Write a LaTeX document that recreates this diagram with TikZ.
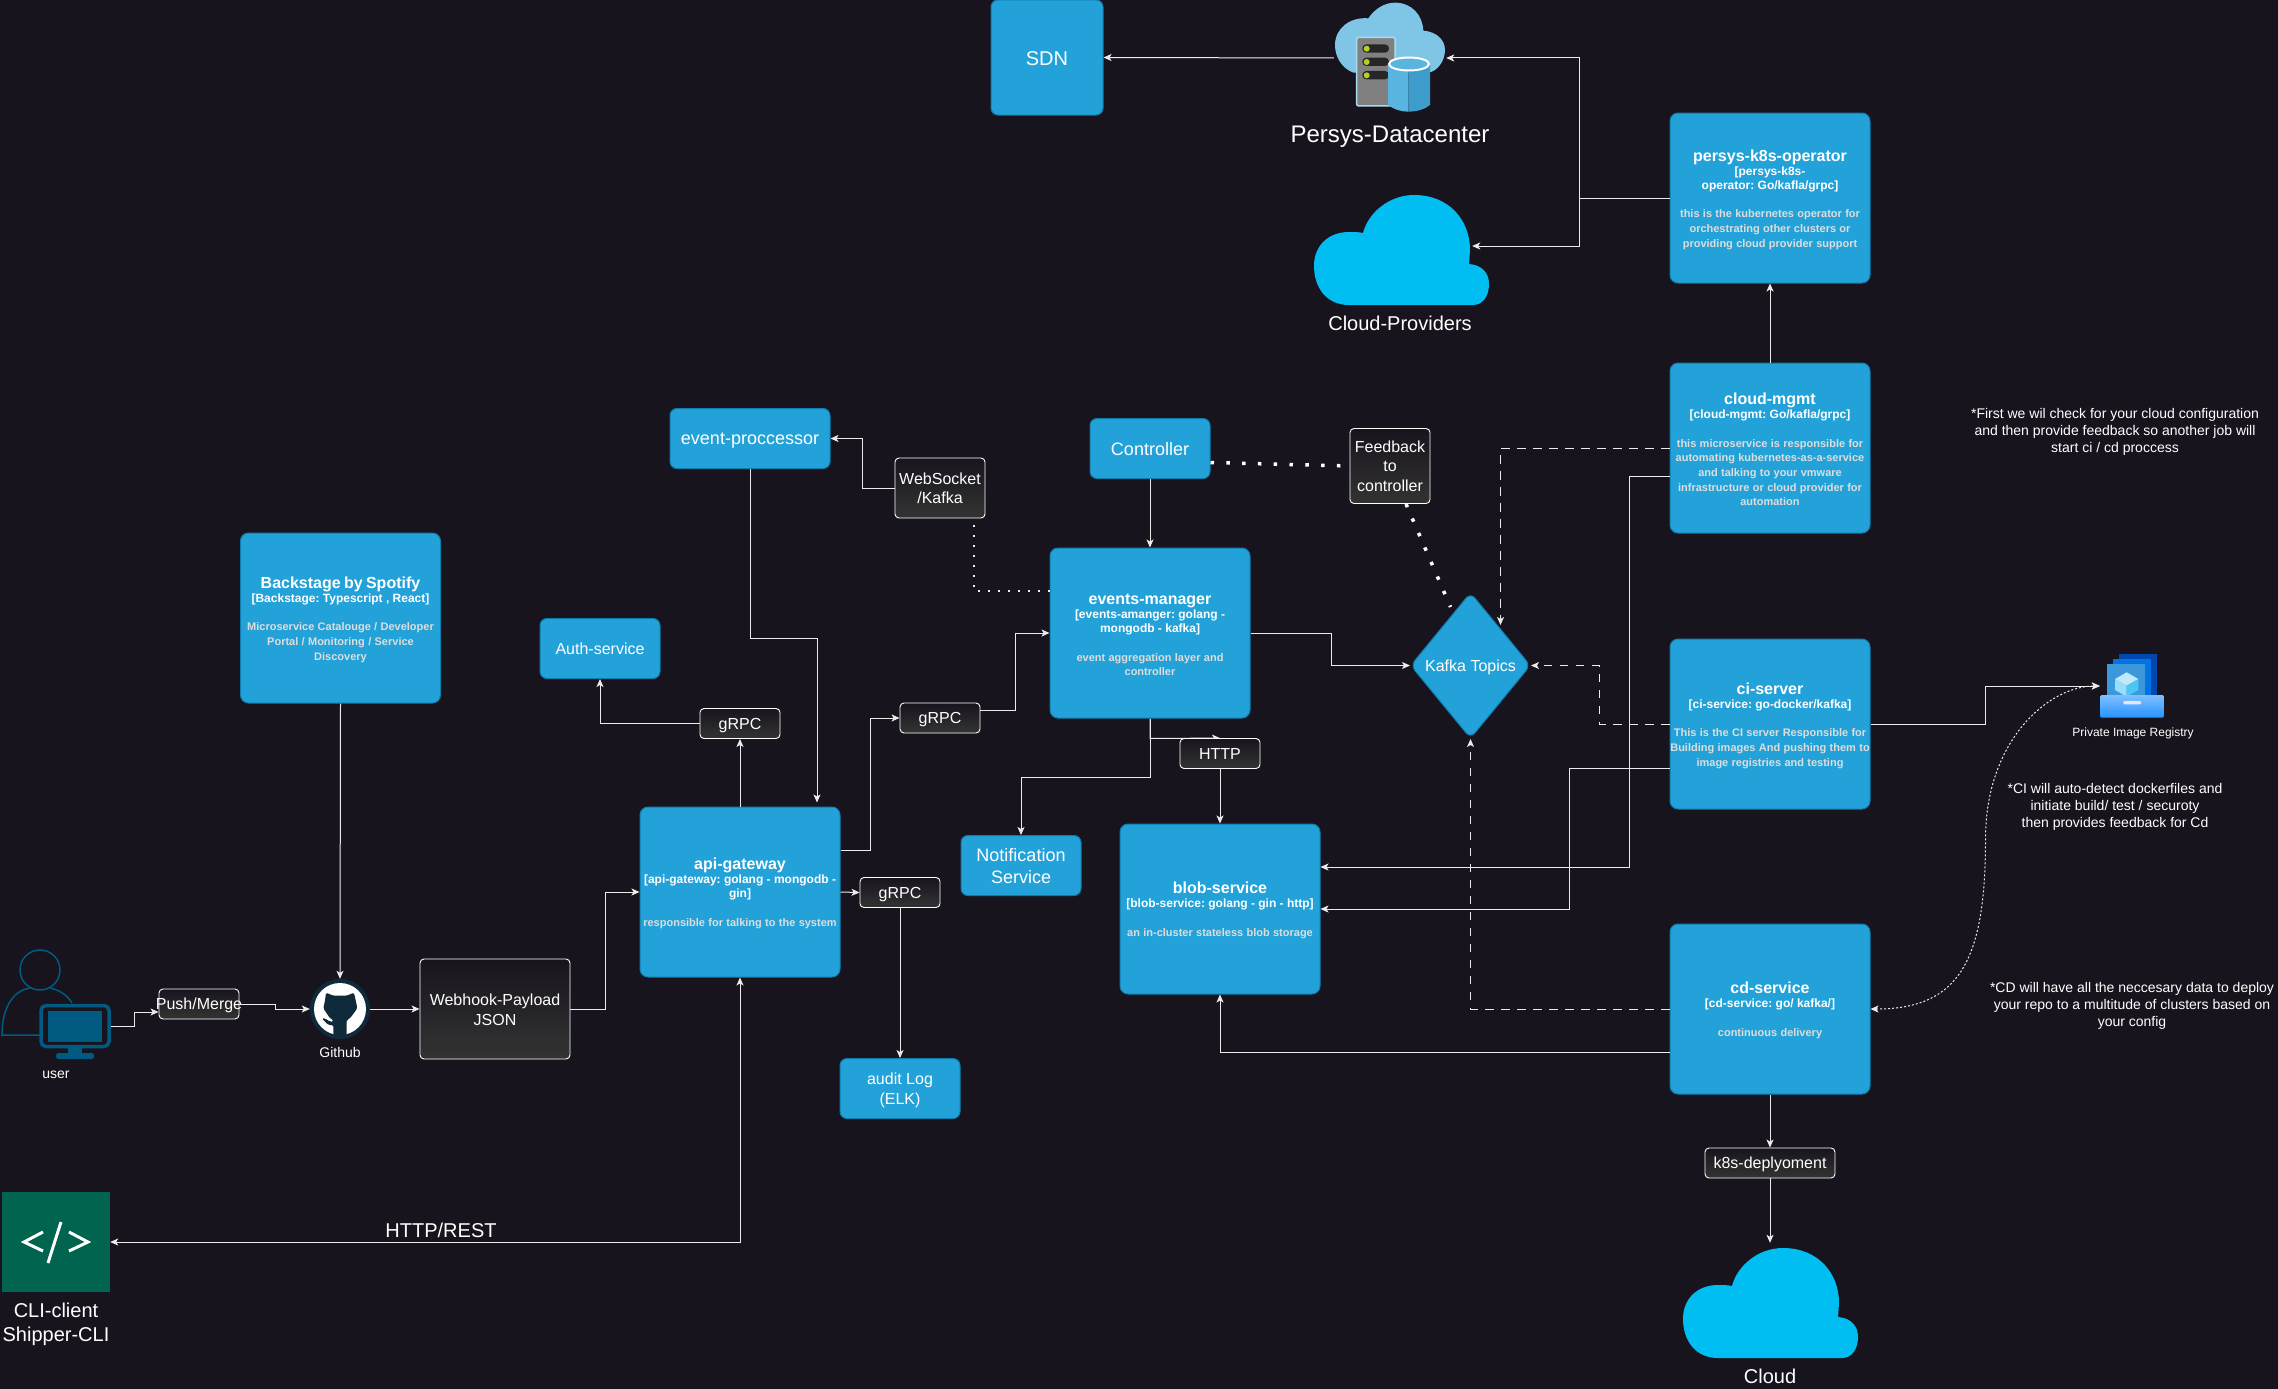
\documentclass[tikz,border=0pt]{standalone}
\usepackage{fontspec}
\setmainfont{Liberation Sans}
\usetikzlibrary{arrows.meta,shapes.geometric,backgrounds}
\frenchspacing
\definecolor{bgdark}{HTML}{18141D}
\definecolor{svcblue}{HTML}{23A2D9}
\definecolor{svcedge}{HTML}{0E7DAD}
\definecolor{svcgrey}{HTML}{DDDDDD}
\definecolor{cloudblue}{HTML}{00BEF2}
\definecolor{userblue}{HTML}{005A82}
\definecolor{ghdark}{HTML}{0F2A3A}
\definecolor{cligreen}{HTML}{01644E}
\definecolor{dccloud}{HTML}{7FC5E5}
\definecolor{dcglow}{HTML}{A8DCF0}
\definecolor{dclight}{HTML}{5AB4E0}
\definecolor{dcdark}{HTML}{3E9CCB}
\definecolor{dcled}{HTML}{B4D12B}
\newcommand{\fnt}[2]{\fontsize{#1}{#2}\selectfont}
\newcommand{\svctitle}[1]{{\fnt{16}{19}\bfseries\rule{0pt}{14.6pt}#1\par}}
\newcommand{\svctech}[1]{{\fnt{12}{14}\bfseries #1\par}}
\newcommand{\svcdesc}[1]{{\vspace{14pt}\fnt{11}{14.6}\bfseries\color{svcgrey} #1\par}}

\begin{document}
\begin{tikzpicture}[x=1pt,y=-1pt,
    every text node part/.style={align=center},
    every node/.style={text=white, text depth=0pt},
    >={Stealth[length=8pt,width=7pt,inset=2pt]},
    svcbox/.style={draw=svcedge, line width=1pt, fill=svcblue, rounded corners=8pt, text width=200,
      text depth=, inner xsep=0, inner ysep=0, minimum height=170},
    smallbox/.style={draw=svcedge, line width=1pt, fill=svcblue, rounded corners=7pt, inner sep=0},
    tagbox/.style={draw=white, line width=.9pt, rounded corners=4pt, top color=bgdark, bottom color=black!80!white,
      inner sep=0, font=\fnt{16}{19.5}},
    spot/.style={inner sep=0, minimum size=0},
    note/.style={font=\fnt{14}{17}},
    link/.style={line width=1pt, draw=white!92!black},
    dashlink/.style={link, dash pattern=on 8.5pt off 7.5pt},
    dotlink/.style={link, dash pattern=on 1.5pt off 8.5pt, line width=1.5pt},
    heavydots/.style={draw=white, line width=3.5pt, dash pattern=on 3.5pt off 12.3pt},
    cloudshape/.pic={\fill[cloudblue] (35,110) .. controls (12,110) and (0,92) .. (0,71)
      .. controls (0,50) and (15,37) .. (35,37) .. controls (40,37) and (45,37) .. (49,38)
      .. controls (54,18) and (75,0) .. (100,0) .. controls (135,0) and (156,25) .. (156,55)
      -- (155,69) .. controls (168,70) and (175,78) .. (175,89)
      .. controls (175,102) and (168,110) .. (159,110) -- cycle;}]
  \useasboundingbox (0,0) rectangle (2278,1389);

  \node (sdn) [smallbox, minimum width=112, minimum height=115, font=\fnt{20}{24}] at (1047,57.5) {\raisebox{-1.5pt}{SDN}};
  \node (datacenter) [spot, minimum width=112, minimum height=110] at (1390,58) {};
  \node (dclabel) [font=\fnt{24}{28}] at (1390,134) {Persys-Datacenter};
  \node (cloudprov) [spot, minimum width=142, minimum height=100] at (1401,246) {};
  \node (provlabel) [font=\fnt{20}{24}] at (1400,323) {Cloud-Providers};

  \node (operator) [svcbox] at (1770,198) {\svctitle{persys-k8s-operator}\svctech{[persys-k8s-\\operator: Go/kafla/grpc]}\svcdesc{this is the kubernetes operator for\\orchestrating other clusters or\\providing cloud provider support}};
  \node (cloudmgmt) [svcbox] at (1770,448) {\svctitle{cloud-mgmt}\svctech{[cloud-mgmt: Go/kafla/grpc]}\svcdesc{this microservice is responsible for\\automating kubernetes-as-a-service\\and talking to your vmware\\infrastructure or cloud provider for\\automation}};
  \node (ciserver) [svcbox] at (1770,724) {\svctitle{ci-server}\svctech{[ci-service: go-docker/kafka]}\svcdesc{This is the CI server Responsible for\\Building images And pushing them to\\image registries and testing}};
  \node (cdservice) [svcbox] at (1770,1009) {\svctitle{cd-service}\svctech{[cd-service: go/ kafka/]}\svcdesc{continuous delivery}};
  \node (blob) [svcbox] at (1220,909) {\svctitle{blob-service}\svctech{[blob-service: golang - gin - http]}\svcdesc{an in-cluster stateless blob storage}};
  \node (eventsmgr) [svcbox] at (1150,633) {\svctitle{events-manager}\svctech{[events-amanger: golang -\\mongodb - kafka]}\svcdesc{event aggregation layer and\\controller}};
  \node (apigw) [svcbox] at (740,892) {\svctitle{api-gateway}\svctech{[api-gateway: golang - mongodb -\\gin]}\svcdesc{responsible for talking to the system}};
  \node (backstage) [svcbox] at (340.5,618) {\svctitle{Backstage by Spotify}\svctech{[Backstage: Typescript , React]}\svcdesc{Microservice Catalouge / Developer\\Portal / Monitoring / Service\\Discovery}};

  \node (eventproc) [smallbox, minimum width=160, minimum height=60, font=\fnt{18}{22}] at (750,438.5) {event-proccessor};
  \node (controller) [smallbox, minimum width=120, minimum height=60, font=\fnt{18}{22}] at (1150,448.5) {Controller};
  \node (authsvc) [smallbox, minimum width=120, minimum height=60, font=\fnt{16}{19}] at (600,648.5) {Auth-service};
  \node (notif) [smallbox, minimum width=120, minimum height=60, font=\fnt{18}{22}] at (1021,865.5) {Notification\\Service};
  \node (audit) [smallbox, minimum width=120, minimum height=60, font=\fnt{16}{19.5}] at (900,1088.5) {audit Log\\(ELK)};

  \node (websocket) [tagbox, minimum width=90, minimum height=60] at (940,488) {WebSocket\\/Kafka};
  \node (feedback) [tagbox, minimum width=80, minimum height=75] at (1390,466) {Feedback\\to\\controller};
  \node (grpcauth) [tagbox, minimum width=80, minimum height=30] at (740,723.5) {gRPC};
  \node (grpcev) [tagbox, minimum width=80, minimum height=30] at (940,718) {gRPC};
  \node (grpcaudit) [tagbox, minimum width=80, minimum height=30] at (900,892.5) {gRPC};
  \node (http) [tagbox, minimum width=80, minimum height=30] at (1220,753.5) {HTTP};
  \node (pushmerge) [tagbox, minimum width=80, minimum height=30] at (199,1004) {\makebox[0pt]{Push/Merge}};
  \node (webhook) [tagbox, minimum width=150, minimum height=100] at (495,1009) {\raisebox{-1.5pt}{Webhook-Payload}\\\raisebox{-1.5pt}{JSON}};
  \node (k8s) [tagbox, minimum width=130, minimum height=30] at (1770,1163) {k8s-deplyoment};

  \node (kafka) [diamond, draw=svcedge, line width=1pt, fill=svcblue, rounded corners=7pt, aspect=0.82, inner sep=0,
    minimum width=120, minimum height=146, font=\fnt{16}{19}] at (1470.5,665.5) {Kafka Topics};
  \node (registry) [spot, minimum width=64, minimum height=64] at (2132,686) {};
  \node (reglabel) [font=\fnt{12}{14}] at (2133,732) {Private Image Registry};
  \node (github) [circle, fill=ghdark, inner sep=0, minimum size=60] at (340,1009) {};
  \node (ghlabel) [font=\fnt{14}{17}] at (340,1052) {Github};
  \node (user) [draw=userblue, line width=3.5pt, rounded corners=5pt, inner sep=0, minimum width=68, minimum height=41] at (75,1026) {};
  \node (userlabel) [font=\fnt{14}{17}] at (56,1075) {user};
  \node (cli) [fill=cligreen, inner sep=0, minimum width=108, minimum height=100] at (56,1242) {};
  \node (clilabel) [font=\fnt{20}{24}] at (56,1322) {CLI-client\\Shipper-CLI};
  \node (restlabel) [font=\fnt{20}{24}] at (441,1230) {HTTP/REST};
  \node (cloudbot) [spot, minimum width=142, minimum height=114] at (1770,1300) {};
  \node (cloudlabel) [font=\fnt{20}{24}] at (1770,1376) {Cloud};
  \node (note1) [note] at (2115,430) {*First we wil check for your cloud configuration\\and then provide feedback so another job will\\start ci / cd proccess};
  \node (note2) [note] at (2115,805) {*CI will auto-detect dockerfiles and\\initiate build/ test / securoty\\then provides feedback for Cd};
  \node (note3) [note] at (2132,1004) {*CD will have all the neccesary data to deploy\\your repo to a multitude of clusters based on\\your config};

  \pic at (1314,195) {cloudshape};
  \pic at (1683,1248) {cloudshape};

  \begin{scope}[shift={(1320,0)},x=.3333pt,y=-.3333pt]
    \fill[dccloud] (100,218) .. controls (65,205) and (45,170) .. (45,135) .. controls (45,85) and (90,50) .. (145,55) .. controls (165,25) and (195,8) .. (225,8) .. controls (275,8) and (308,45) .. (310,92) .. controls (350,95) and (375,120) .. (375,150) .. controls (375,185) and (350,215) .. (325,218) -- cycle;
    \filldraw[draw=dcglow, line width=1.5pt, fill=black!50, rounded corners=2pt] (110,112) rectangle (225,318);
    \foreach \ledy in {146,186,226} {
      \fill[black!85, rounded corners=4pt] (127,\ledy-13) rectangle (207,\ledy+12);
      \fill[dcled] (140,\ledy) circle [radius=3pt];
    }
    \fill[dclight] (204,192) -- (204,315) .. controls (225,330) and (245,335) .. (265,335) -- (265,192) -- cycle;
    \fill[dcdark] (265,192) -- (265,335) .. controls (290,335) and (315,328) .. (330,315) -- (330,192) -- cycle;
    \filldraw[draw=white, line width=2pt, fill=dclight] (267,192) ellipse [x radius=20pt, y radius=6.5pt];
  \end{scope}

  \begin{scope}[shift={(300,970)},x=.3333pt,y=-.3333pt]
    \fill[white] (120,117) circle [radius=26pt];
    \fill[ghdark, rounded corners=1.5pt] (78,68) -- (100,77) -- (140,77) -- (162,68) -- (168,95) -- (172,115) -- (150,145) -- (140,150) -- (140,196) -- (100,196) -- (100,165) -- (85,165) -- (65,145) -- (75,145) -- (90,155) -- (100,155) -- (100,150) -- (90,145) -- (70,115) -- (75,92) -- cycle;
  \end{scope}

  \begin{scope}[shift={(2090,645)},x=.3333pt,y=-.3333pt]
    \fill[blue!60!cyan!70!black] (88,28) rectangle (200,155);
    \fill[blue!50!cyan!90!black] (70,42) rectangle (183,155);
    \fill[cyan!70!blue!80!white] (52,58) rectangle (165,155);
    \fill[cyan!25!white] (110,82) -- (145,102) -- (110,122) -- (75,102) -- cycle;
    \fill[cyan!40!white] (75,102) -- (110,122) -- (110,155) -- (75,135) -- cycle;
    \fill[cyan!70!white] (145,102) -- (110,122) -- (110,155) -- (145,135) -- cycle;
    \shade[top color=blue!50!cyan!50!white, bottom color=blue!50!cyan!85!white, rounded corners=1.5pt] (30,150) rectangle (222,218);
    \fill[white!90!blue, rounded corners=1pt] (100,168) rectangle (153,178);
  \end{scope}

  \draw[userblue, line width=1.5pt] (40,970) circle [radius=20pt];
  \draw[userblue, line width=1.5pt] (40,1035) -- (2,1035) .. controls (2,1005) and (15,990) .. (30,988);
  \draw[userblue, line width=1.5pt] (50,988) .. controls (60,990) and (68,996) .. (72,1003);
  \fill[userblue] (48,1011) rectangle (102,1042);
  \fill[userblue] (68,1046) rectangle (82,1055);
  \fill[userblue, rounded corners=2.5pt] (56,1053) rectangle (94,1059);

  \draw[white, line width=3pt] (43,1232) -- (24,1242) -- (43,1251);
  \draw[white, line width=3pt] (61,1222) -- (48,1263);
  \draw[white, line width=3pt] (69,1232) -- (88,1242) -- (69,1251);

  \begin{scope}[on background layer]
    \fill[bgdark] (0,0) rectangle (2278,1389);
    \draw[->, link] (eventsmgr.south) -- ++(0,20) -- (http.north);
  \end{scope}
  \draw[->, link] (user.east) -- ++(24,0) |- ([yshift=-8]pushmerge.west);
  \draw[->, link] (pushmerge.east) -- ++(36,0) |- (github.west);
  \draw[->, link] (github.east) -- (webhook.west);
  \draw[->, link] (webhook.east) -- ++(35,0) |- (apigw.west);
  \draw[->, link] (backstage.south) -- (github.north);
  \draw[->, link] (apigw.east) -- (grpcaudit.west);
  \draw[->, link] (grpcaudit.south) -- (audit.north);
  \draw[->, link] (apigw.north) -- (grpcauth.south);
  \draw[->, link] (grpcauth.west) -| (authsvc.south);
  \draw[->, link] ([yshift=42]apigw.east) -- ++(30,0) |- (grpcev.west);
  \draw[->, link] ([yshift=8]grpcev.east) -- ++(35,0) |- (eventsmgr.west);
  \draw[->, link, shorten >=4pt] (eventproc.south) -- ++(0,169) -| ([xshift=77]apigw.north);
  \draw[->, link] (websocket.west) -- ++(-32,0) |- (eventproc.east);
  \draw[dotlink] ([yshift=42]eventsmgr.west) -| ([xshift=34,yshift=-7]websocket.south);
  \draw[->, link] (controller.south) -- (eventsmgr.north);
  \draw[heavydots] ([yshift=-14]controller.east) -- (feedback.west);
  \draw[heavydots] ([xshift=16]feedback.south) -- ([xshift=-20,yshift=-15]kafka.north);
  \draw[->, link] (eventsmgr.east) -- ++(81,0) |- (kafka.west);
  \draw[->, link] (eventsmgr.south) -- ++(0,59) -| (notif.north);
  \draw[->, link] (http.south) -- (blob.north);
  \draw[->, link] (datacenter.west) -- (sdn.east);
  \draw[->, link] (operator.west) -- ++(-90,0) |- (datacenter.east);
  \draw[->, link] (operator.west) -- ++(-90,0) |- (cloudprov.east);
  \draw[->, link] (cloudmgmt.north) -- (operator.south);
  \draw[->, dashlink] (cloudmgmt.west) -| ([xshift=30,yshift=-33]kafka.north);
  \draw[->, link] ([yshift=-28]cloudmgmt.west) -- ++(-40,0) |- ([yshift=42]blob.east);
  \draw[->, link] ([yshift=-44]ciserver.west) -- ++(-100,0) |- (blob.east);
  \draw[->, dashlink] (ciserver.west) -- ++(-70,0) |- (kafka.east);
  \draw[->, dashlink] (cdservice.west) -| (kafka.south);
  \draw[->, link] ([yshift=-43]cdservice.west) -| (blob.south);
  \draw[->, link] (cdservice.south) -- (k8s.north);
  \draw[->, link] (k8s.south) -- (cloudbot.north);
  \draw[->, link] (ciserver.east) -- ++(115,0) |- (registry.west);
  \draw[<->, link, dash pattern=on 2pt off 2pt] (cdservice.east) .. controls ++(90,0) and ++(0,120) .. ++(115,-170) .. controls ++(0,-100) and ++(-50,0) .. (registry.west);
  \draw[<->, link] (cli.east) -| (apigw.south);
\end{tikzpicture}
\end{document}
